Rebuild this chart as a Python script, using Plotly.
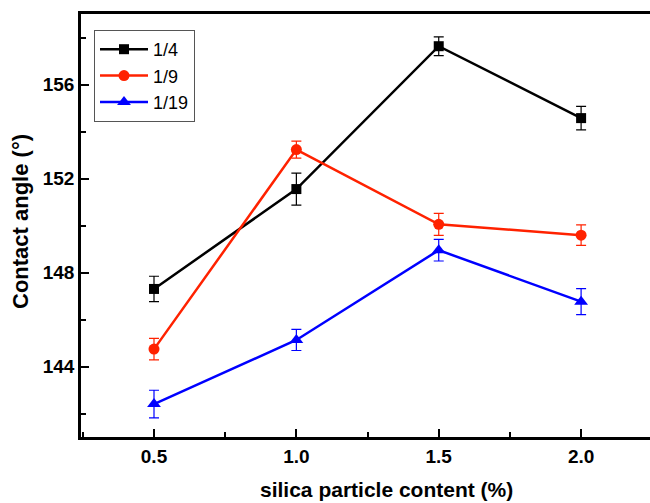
import plotly.graph_objects as go

x_vals = [0.5, 1.0, 1.5, 2.0]
s14 = [147.3, 151.55, 157.63, 154.57]
s14_err = [0.54, 0.68, 0.40, 0.50]
s19 = [144.74, 153.23, 150.05, 149.59]
s19_err = [0.46, 0.36, 0.47, 0.44]
s119 = [142.40, 145.13, 148.95, 146.76]
s119_err = [0.59, 0.45, 0.46, 0.55]
names = ["1/4", "1/9", "1/19"]

FONT = "Liberation Sans, Arial, sans-serif"

series = [
    (names[0], s14, s14_err, "black", "square", 10),
    (names[1], s19, s19_err, "#ff2200", "circle", 11),
    (names[2], s119, s119_err, "#0000ff", "triangle-up", 12),
]

fig = go.Figure()
for name, ys, errs, color, sym, msize in series:
    fig.add_trace(go.Scatter(
        x=x_vals, y=ys, name=name, mode="lines+markers",
        line=dict(color=color, width=2.5),
        marker=dict(symbol=sym, size=msize, color=color),
        error_y=dict(type="data", array=errs, visible=True, color=color,
                     thickness=1.2, width=5),
    ))

L, T, B = 81, 14, 437
PW, PH = 650 - L, B - T

fig.update_layout(
    width=650, height=503,
    margin=dict(l=L, r=0, t=T, b=503 - B, autoexpand=False),
    paper_bgcolor="white", plot_bgcolor="white",
    font=dict(family=FONT, color="black"),
    showlegend=True,
    legend=dict(
        x=(94 - L) / PW, y=1 - (30 - T) / PH, xanchor="left", yanchor="top",
        bordercolor="#555555", borderwidth=1, bgcolor="white",
        font=dict(size=18, family=FONT), tracegroupgap=0,
        itemwidth=48,
    ),
    xaxis=dict(
        range=[0.2436, 2.242], tick0=0.5, dtick=0.5, tickformat=".1f",
        ticks="inside", ticklen=8, tickwidth=1.5, tickcolor="black",
        showline=True, linecolor="black", linewidth=2.5, mirror=True,
        showgrid=False, zeroline=False, automargin=False,
        tickfont=dict(size=19, weight="bold", family=FONT),
        minor=dict(ticks="inside", ticklen=5, dtick=0.25, tick0=0.25, tickcolor="black", tickwidth=1.5),
    ),
    yaxis=dict(
        range=[141.0, 159.0], tick0=144, dtick=4,
        ticks="inside", ticklen=8, tickwidth=1.5, tickcolor="black",
        showline=True, linecolor="black", linewidth=2.5, mirror=False,
        showgrid=False, zeroline=False, automargin=False,
        tickfont=dict(size=19, weight="bold", family=FONT),
        minor=dict(ticks="inside", ticklen=5, dtick=2, tick0=144, tickcolor="black", tickwidth=1.5),
    ),
    annotations=[
        dict(
            text="silica particle content (%)", xref="paper", yref="paper",
            x=(386 - L) / PW, y=-(489 - B) / PH, xanchor="center", yanchor="middle",
            showarrow=False, font=dict(size=21, weight="bold", family=FONT),
        ),
        dict(
            text="Contact angle (°)", xref="paper", yref="paper", textangle=-90,
            x=-(L - 20) / PW, y=1 - (222 - T) / PH, xanchor="center", yanchor="middle",
            showarrow=False, font=dict(size=22, weight="bold", family=FONT),
        ),
    ],
)

fig.write_html(
    "out.html",
    config={"displayModeBar": False},
    post_script="document.body.style.margin='0';document.body.style.padding='0';document.body.style.overflow='hidden';",
)
